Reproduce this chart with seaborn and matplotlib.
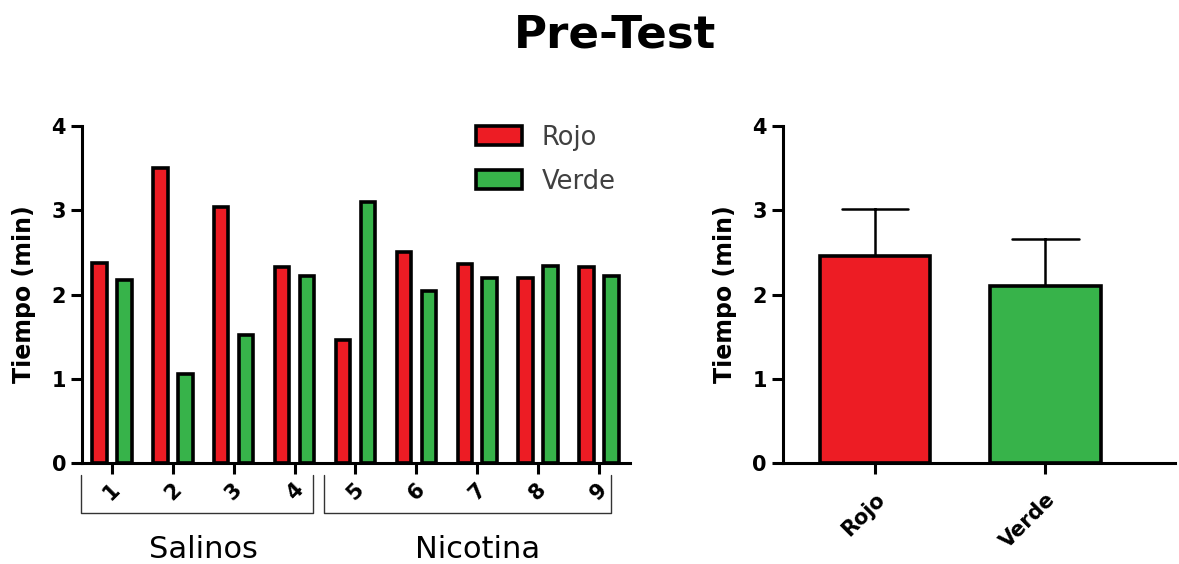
import matplotlib
matplotlib.use("Agg")
import matplotlib.pyplot as plt
import seaborn as sns
import pandas as pd

# datos
sujetos = ["1", "2", "3", "4", "5", "6", "7", "8", "9"]
grupos = ["Salinos"] * 4 + ["Nicotina"] * 5
rojo = [2.37, 3.50, 3.04, 2.33, 1.46, 2.50, 2.36, 2.20, 2.33]
verde = [2.17, 1.06, 1.52, 2.22, 3.10, 2.04, 2.20, 2.34, 2.22]
colores = ["Rojo", "Verde"]
paleta = {"Rojo": "#ED1C24", "Verde": "#37B34A"}

sns.set_theme(style="ticks", rc={
    "axes.edgecolor": "black", "axes.linewidth": 2.2,
    "xtick.color": "black", "ytick.color": "black",
    "text.color": "black", "axes.labelcolor": "black",
})
plt.rcParams["font.family"] = ["DejaVu Sans"]

filas = []
for s, g, r, v in zip(sujetos, grupos, rojo, verde):
    filas.append([s, g, "Rojo", r])
    filas.append([s, g, "Verde", v])
df = pd.DataFrame(filas, columns=["Sujeto", "Grupo", "Color", "Tiempo"])

fig = plt.figure(figsize=(11.79, 5.64), dpi=100)
ax1 = fig.add_axes([0.0696, 0.179, 0.4648, 0.5975])
ax2 = fig.add_axes([0.664, 0.179, 0.3325, 0.5975])

# panel izquierdo: por sujeto
sns.barplot(data=df, x="Sujeto", y="Tiempo", hue="Color", hue_order=colores,
            palette=paleta, saturation=1, width=0.82, gap=0.42, errorbar=None,
            edgecolor="black", linewidth=2.6, ax=ax1)
ax1.set_xlim(-0.49, 8.51)
ax1.set_ylim(0, 4)
ax1.set_yticks([0, 1, 2, 3, 4])
ax1.set_xlabel("")
ax1.set_ylabel("Tiempo (min)", fontsize=17, fontweight="bold", labelpad=11)
ax1.tick_params(width=2.2, length=8, labelsize=15)
plt.setp(ax1.get_yticklabels(), fontweight="bold")
plt.setp(ax1.get_xticklabels(), fontweight="bold", rotation=45)
sns.move_legend(ax1, "upper left", bbox_to_anchor=(0.70, 1.035), frameon=False,
                title="", fontsize=18.5, handlelength=1.8, handleheight=0.8,
                handletextpad=0.75, labelspacing=0.7, borderaxespad=0)
for t in ax1.get_legend().get_texts():
    t.set_color("0.25")
for h in ax1.get_legend().legend_handles:
    h.set_edgecolor("black")
    h.set_linewidth(2.6)

# corchetes de grupo
corchetes = {"Salinos": (-0.5, 3.3), "Nicotina": (3.48, 8.2)}
trans = ax1.get_xaxis_transform()
for g, (x0, x1) in corchetes.items():
    ax1.plot([x0, x0, x1, x1], [-0.036, -0.148, -0.148, -0.036], color="0.2",
             linewidth=1.0, transform=trans, clip_on=False)
    idx = [i for i, gg in enumerate(grupos) if gg == g]
    xm = sum(idx) / len(idx)
    ax1.text(xm, -0.258, g, transform=trans, ha="center", va="center",
             fontsize=22)

# panel derecho: media + DE
sns.barplot(data=df, x="Color", y="Tiempo", hue="Color", order=colores,
            palette=paleta, saturation=1, errorbar="sd", capsize=0.39, width=0.65,
            edgecolor="black", linewidth=2.6, legend=False,
            err_kws={"color": "black", "linewidth": 1.8, "zorder": 0.5}, ax=ax2)
ax2.set_xlim(-0.54, 1.76)
ax2.set_ylim(0, 4)
ax2.set_yticks([0, 1, 2, 3, 4])
ax2.set_xlabel("")
ax2.set_ylabel("Tiempo (min)", fontsize=17, fontweight="bold", labelpad=11)
ax2.tick_params(width=2.2, length=8, labelsize=15)
ax2.tick_params(axis="x", pad=11)
plt.setp(ax2.get_yticklabels(), fontweight="bold")
plt.setp(ax2.get_xticklabels(), fontweight="bold", rotation=45, ha="right",
         rotation_mode="anchor")

sns.despine(fig=fig)
fig.suptitle("Pre-Test", x=0.522, y=0.938, va="center", fontsize=32.5,
             fontweight="bold")

fig.savefig("out.png", dpi=100)
